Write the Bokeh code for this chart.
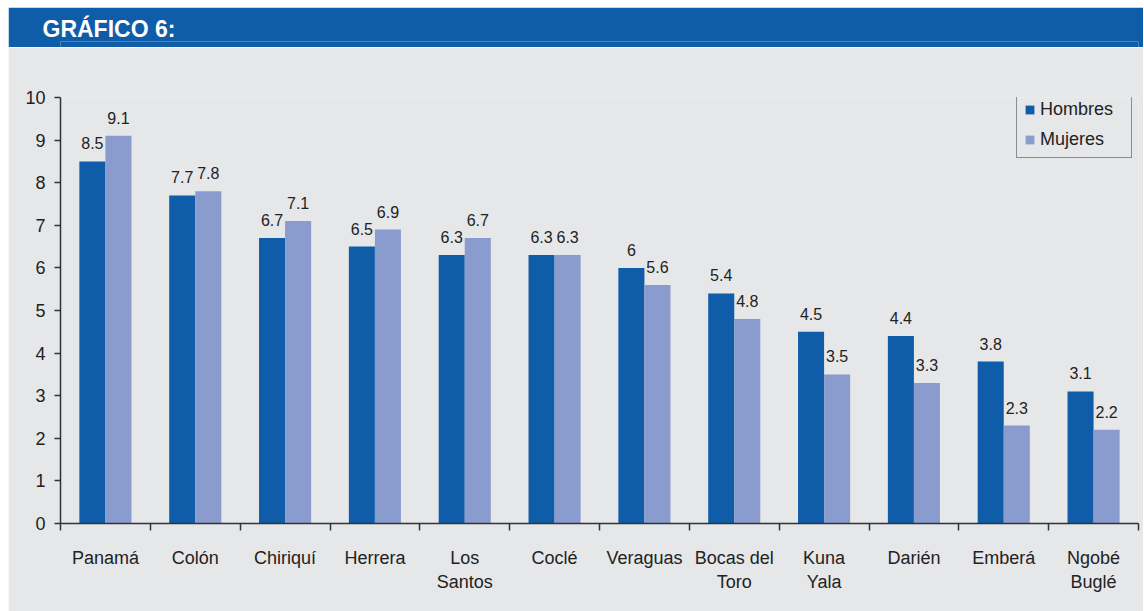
from bokeh.plotting import figure
from bokeh.layouts import column
from bokeh.models import Range1d, FixedTicker, ColumnDataSource, Legend, LegendItem
from bokeh.core.properties import value
from bokeh.embed import file_html
from bokeh.resources import INLINE

categories = ["Panamá", "Colón", "Chiriquí", "Herrera", "Los\nSantos", "Coclé",
              "Veraguas", "Bocas del\nToro", "Kuna\nYala", "Darién", "Emberá", "Ngobé\nBuglé"]
hombres = [8.5, 7.7, 6.7, 6.5, 6.3, 6.3, 6.0, 5.4, 4.5, 4.4, 3.8, 3.1]
mujeres = [9.1, 7.8, 7.1, 6.9, 6.7, 6.3, 5.6, 4.8, 3.5, 3.3, 2.3, 2.2]
y_ticks = list(range(0, 11))
title_text = "GRÁFICO 6:"

DARK = "#0f5ca9"
LIGHT = "#8a9cce"
BG = "#e6e7e9"
FONT = "Liberation Sans"
W = 1135

def fmt(v):
    return ("%g" % v)

n = len(categories)
centers = [i + 0.5 for i in range(n)]
bw = 0.29
src_h = ColumnDataSource(dict(x=[c - bw / 2 for c in centers], top=hombres,
                              lab=[fmt(v) for v in hombres]))
src_m = ColumnDataSource(dict(x=[c + bw / 2 for c in centers], top=mujeres,
                              lab=[fmt(v) for v in mujeres]))

# Header
header = figure(width=W, height=40, x_range=Range1d(0, 1), y_range=Range1d(0, 1),
                output_backend="svg", toolbar_location=None, min_border=0,
                background_fill_color=DARK, border_fill_color=DARK, outline_line_color=None)
header.axis.visible = False
header.grid.visible = False
header.title.text = title_text
header.title.align = "left"
header.title.offset = -18
header.title.text_color = "white"
header.title.text_font = FONT
header.title.text_font_style = "bold"
header.title.text_font_size = "23px"
header.title.standoff = 0
header.min_border_top = 34

p = figure(width=W, height=564, x_range=Range1d(0, n), y_range=Range1d(0, 10),
           output_backend="svg", toolbar_location=None,
           min_border_left=52, min_border_right=5, min_border_top=50, min_border_bottom=88,
           background_fill_color=BG, border_fill_color=BG, outline_line_color=None)
p.grid.visible = False

r1 = p.vbar(x="x", top="top", width=bw, source=src_h, fill_color=DARK, line_color=None)
r2 = p.vbar(x="x", top="top", width=bw, source=src_m, fill_color=LIGHT, line_color=None)

for src in (src_h, src_m):
    p.text(x="x", y="top", text="lab", source=src, text_align="center",
           text_baseline="bottom", y_offset=-12, text_font=value(FONT),
           text_font_size="16px", text_color="#222222")

# x axis
p.xaxis.ticker = FixedTicker(ticks=centers, minor_ticks=list(range(0, n + 1)))
p.xaxis.major_label_overrides = {c: lab for c, lab in zip(centers, categories)}
p.xaxis.major_tick_out = 0
p.xaxis.major_tick_in = 0
p.xaxis.minor_tick_out = 7
p.xaxis.minor_tick_in = 0
p.xaxis.minor_tick_line_color = "#333333"
p.xaxis.minor_tick_line_width = 1.5
p.xaxis.axis_line_color = "#333333"
p.xaxis.axis_line_width = 1.5
p.xaxis.major_label_standoff = 17
p.xaxis.major_label_text_font = FONT
p.xaxis.major_label_text_font_size = "18px"
p.xaxis.major_label_text_color = "#222222"

# y axis
p.yaxis.ticker = FixedTicker(ticks=y_ticks)
p.yaxis.major_tick_out = 6
p.yaxis.major_tick_in = 0
p.yaxis.minor_tick_line_color = None
p.yaxis.major_tick_line_color = "#333333"
p.yaxis.major_tick_line_width = 1.5
p.yaxis.axis_line_color = "#333333"
p.yaxis.axis_line_width = 1.5
p.yaxis.major_label_standoff = 9
p.yaxis.major_label_text_font = FONT
p.yaxis.major_label_text_font_size = "18px"
p.yaxis.major_label_text_color = "#222222"

legend = Legend(items=[LegendItem(label="Hombres", renderers=[r1]),
                       LegendItem(label="Mujeres", renderers=[r2])],
                location=(956, 365), margin=0, padding=7, spacing=9,
                glyph_width=11, glyph_height=11, label_standoff=5,
                label_text_font=FONT, label_text_font_size="18px",
                label_text_color="#222222", label_height=20, label_width=84,
                border_line_color="#333333", border_line_width=1.5,
                background_fill_alpha=0)
p.add_layout(legend)

layout = column(header, p, spacing=0, margin=(7, 0, 0, 8))
open("out.html", "w").write(file_html(layout, INLINE))
